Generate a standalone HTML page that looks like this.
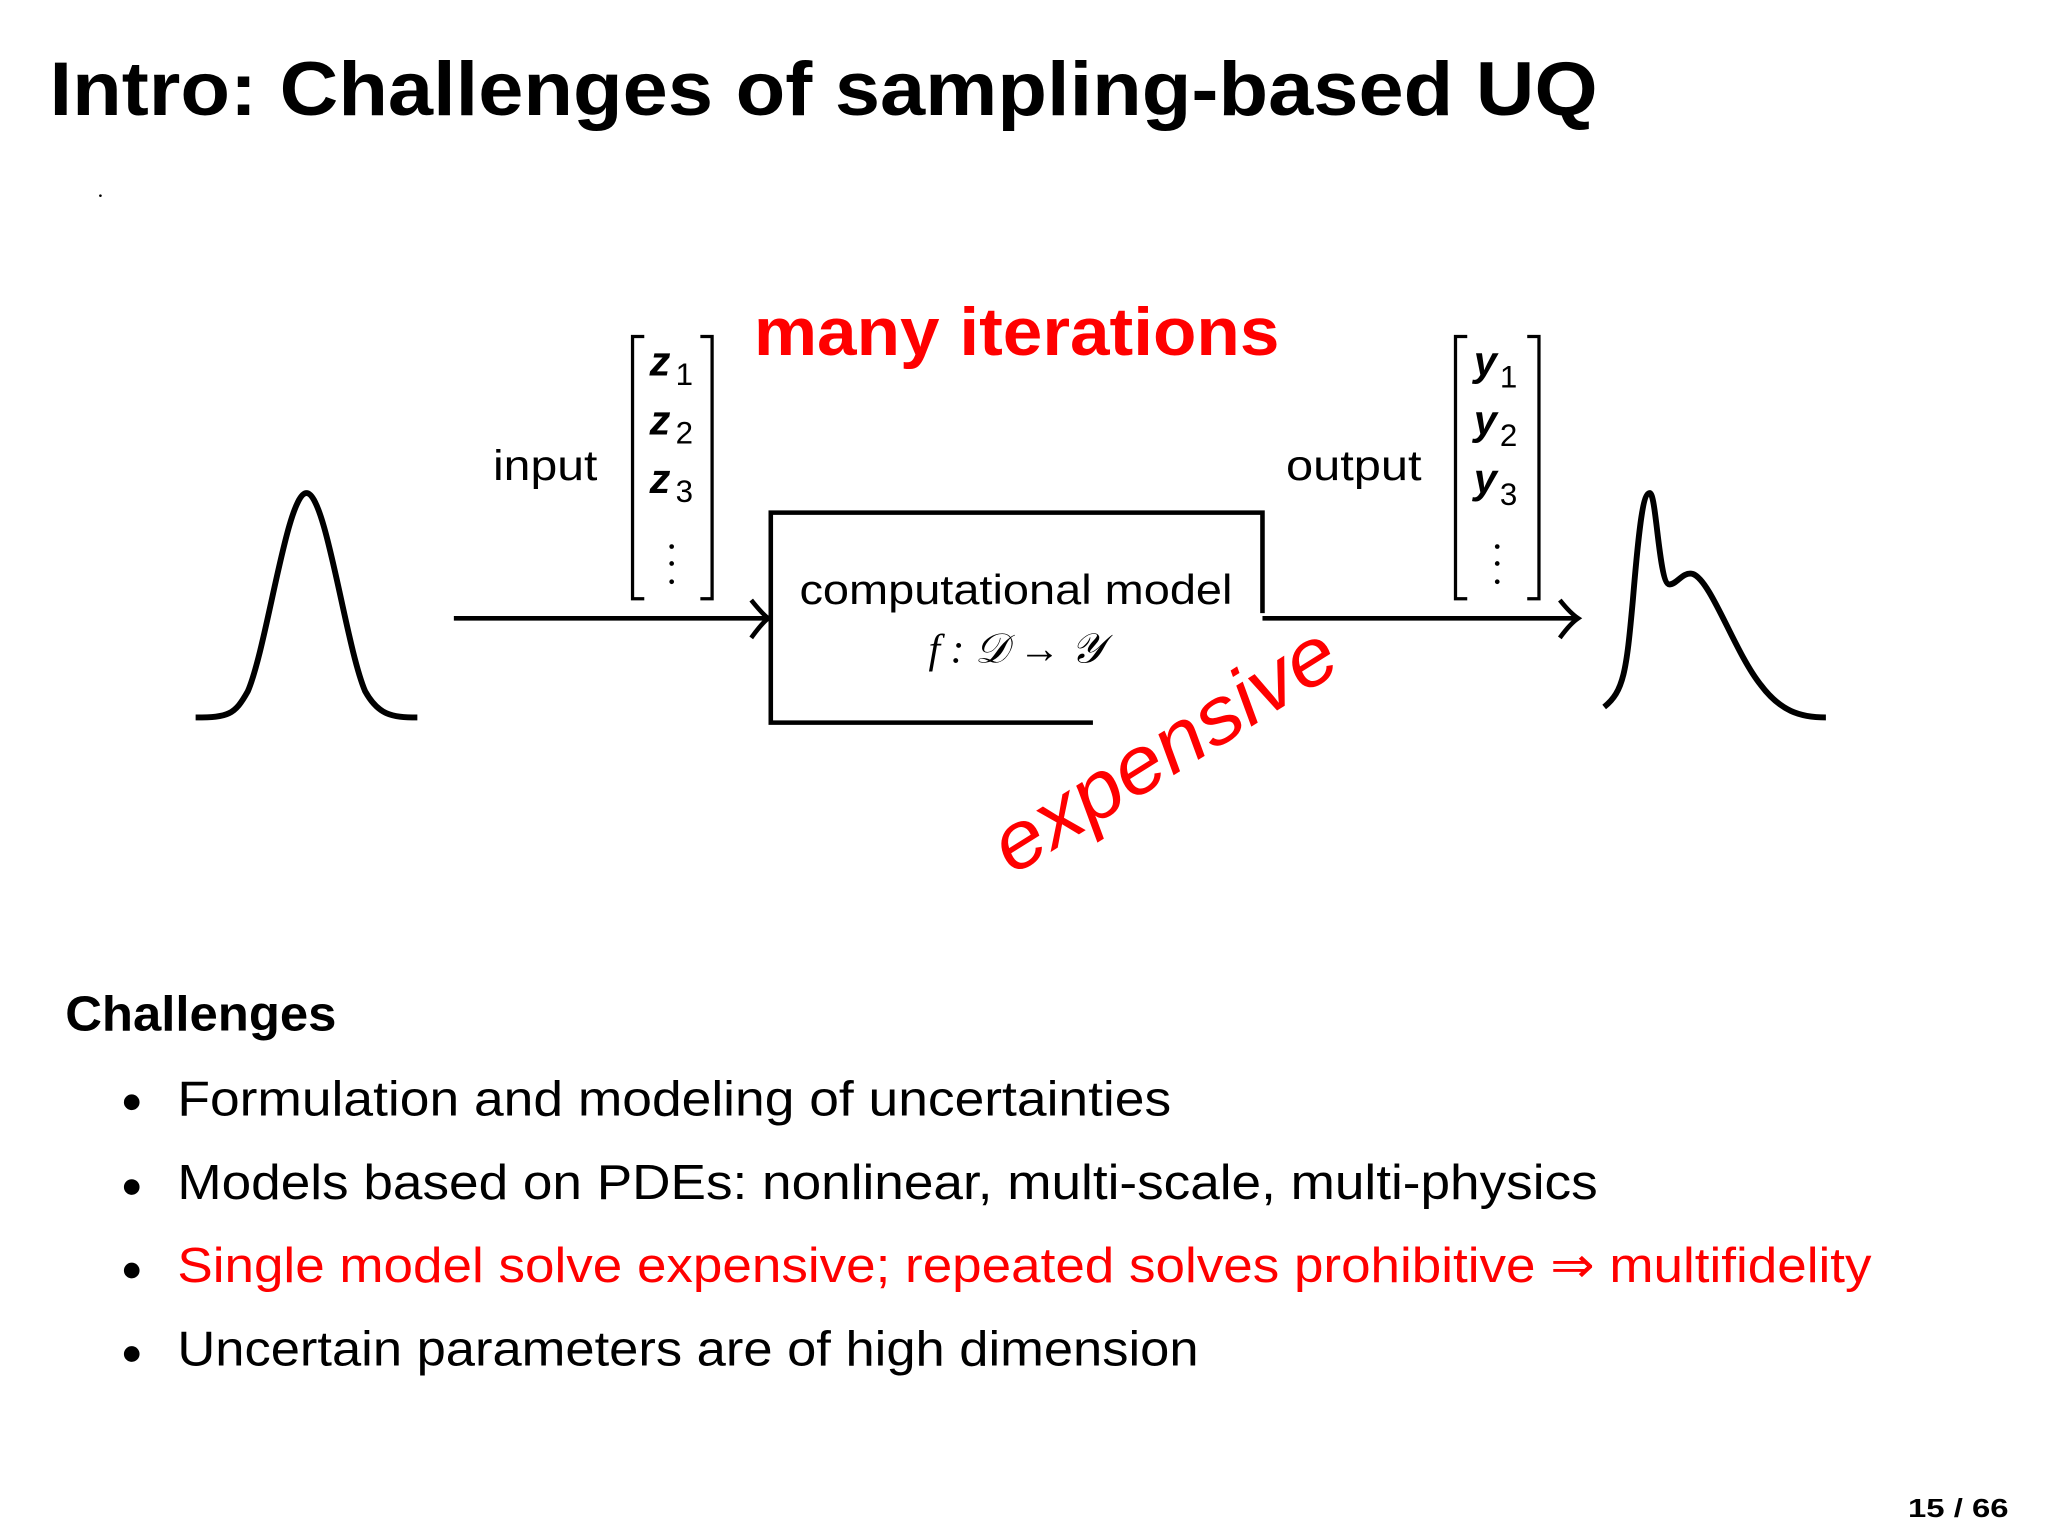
<!DOCTYPE html>
<html><head><meta charset="utf-8"><style>html,body{margin:0;padding:0;background:#fff;overflow:hidden}svg{display:block}</style></head>
<body>
<svg width="2045" height="1534" viewBox="0 0 1568 1176" preserveAspectRatio="none" xmlns="http://www.w3.org/2000/svg" font-family="Liberation Sans, DejaVu Sans, sans-serif">
<rect width="1568" height="1176" fill="#fff"/>
<text x="38" y="88" font-size="58" font-weight="bold" textLength="1187" lengthAdjust="spacingAndGlyphs">Intro: Challenges of sampling-based UQ</text>
<circle cx="77" cy="150" r="1" fill="#000"/>
<!-- left distribution -->
<path d="M150,550 C175,550 180,548 190,530 C205,495 220,378 235,378 C250,378 265,495 280,530 C290,548 300,550 320,550" fill="none" stroke="#000" stroke-width="4.5"/>
<!-- input arrow -->
<line x1="348" y1="474" x2="588" y2="474" stroke="#000" stroke-width="3.5"/>
<path d="M576,460 Q584,470 589,474 Q584,478 576,489" fill="none" stroke="#000" stroke-width="3.5"/>
<text x="378" y="368" font-size="33" textLength="80" lengthAdjust="spacingAndGlyphs">input</text>
<!-- left bracket matrix -->
<path d="M494,258 H485 V459 H494 M537,258 H546 V459 H537" fill="none" stroke="#000" stroke-width="2.5"/>
<g font-family="Liberation Sans, sans-serif" font-style="italic" font-weight="bold" font-size="32">
<text x="498" y="288">z</text><text x="498" y="333">z</text><text x="498" y="378">z</text>
<text x="1130" y="288">y</text><text x="1130" y="333">y</text><text x="1130" y="378">y</text>
</g>
<g font-size="24">
<text x="518" y="295">1</text><text x="518" y="340">2</text><text x="518" y="385">3</text>
<text x="1150" y="297">1</text><text x="1150" y="342">2</text><text x="1150" y="387">3</text>
</g>
<g fill="#000"><circle cx="515" cy="419" r="1.8"/><circle cx="515" cy="432" r="1.8"/><circle cx="515" cy="446" r="1.8"/>
<circle cx="1148" cy="419" r="1.8"/><circle cx="1148" cy="432" r="1.8"/><circle cx="1148" cy="446" r="1.8"/></g>
<text x="578" y="272" font-size="52" font-weight="bold" fill="#ff0000" textLength="403" lengthAdjust="spacingAndGlyphs">many iterations</text>
<!-- box -->
<path d="M838,554 H591 V393 H968 V470" fill="none" stroke="#000" stroke-width="3.5"/>
<text x="779" y="463" font-size="32" text-anchor="middle" textLength="332" lengthAdjust="spacingAndGlyphs">computational model</text>
<text x="779" y="508" font-size="32" text-anchor="middle" font-family="Liberation Serif, serif" font-style="italic">f : 𝒟 → 𝒴</text>
<!-- output arrow -->
<line x1="968" y1="474" x2="1208" y2="474" stroke="#000" stroke-width="3.5"/>
<path d="M1196,460 Q1204,470 1210,474 Q1204,478 1196,489" fill="none" stroke="#000" stroke-width="3.5"/>
<text x="986" y="368" font-size="33" textLength="104" lengthAdjust="spacingAndGlyphs">output</text>
<path d="M1125,258 H1116 V459 H1125 M1171,258 H1180 V459 H1171" fill="none" stroke="#000" stroke-width="2.5"/>
<!-- right distribution -->
<path d="M1230,542 C1245,530 1247,515 1252,460 C1257,400 1260,378 1265,378 C1270,378 1272,448 1280,448 C1286,448 1290,438 1298,440 C1312,445 1330,500 1350,525 C1365,545 1380,550 1400,550" fill="none" stroke="#000" stroke-width="4.5"/>
<!-- expensive -->
<text x="893" y="595" font-size="62" fill="#ff0000" font-style="italic" text-anchor="middle" transform="rotate(-32 893 575)" textLength="300" lengthAdjust="spacingAndGlyphs">expensive</text>
<!-- challenges -->
<text x="50" y="790" font-size="38" font-weight="bold" textLength="208" lengthAdjust="spacingAndGlyphs">Challenges</text>
<g font-size="38">
<circle cx="101" cy="845" r="6" fill="#000"/>
<text x="136" y="855" textLength="762" lengthAdjust="spacingAndGlyphs">Formulation and modeling of uncertainties</text>
<circle cx="101" cy="910" r="6" fill="#000"/>
<text x="136" y="919" textLength="1089" lengthAdjust="spacingAndGlyphs">Models based on PDEs: nonlinear, multi-scale, multi-physics</text>
<circle cx="101" cy="974" r="6" fill="#000"/>
<text x="136" y="983" fill="#ff0000" textLength="1299" lengthAdjust="spacingAndGlyphs">Single model solve expensive; repeated solves prohibitive ⇒ multifidelity</text>
<circle cx="101" cy="1038" r="6" fill="#000"/>
<text x="136" y="1047" textLength="783" lengthAdjust="spacingAndGlyphs">Uncertain parameters are of high dimension</text>
</g>
<text x="1463" y="1163" font-size="20" font-weight="bold" textLength="77" lengthAdjust="spacingAndGlyphs">15 / 66</text>
</svg>
</body></html>
